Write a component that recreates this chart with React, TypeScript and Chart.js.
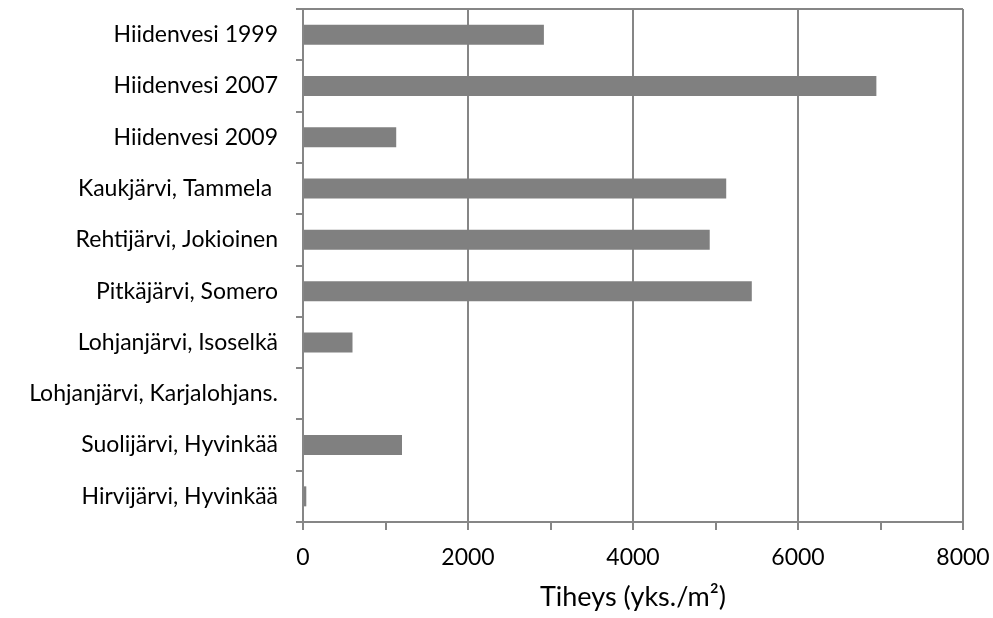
import React, { useEffect, useRef } from "react";
import { Chart, registerables } from "chart.js";

Chart.register(...registerables);

const categories = [
  "Hiidenvesi 1999",
  "Hiidenvesi 2007",
  "Hiidenvesi 2009",
  "Kaukjärvi, Tammela ",
  "Rehtijärvi, Jokioinen",
  "Pitkäjärvi, Somero",
  "Lohjanjärvi, Isoselkä",
  "Lohjanjärvi, Karjalohjans.",
  "Suolijärvi, Hyvinkää",
  "Hirvijärvi, Hyvinkää",
];
const densities = [2920, 6950, 1130, 5130, 4930, 5440, 600, 0, 1200, 40];
const xMin = 0;
const xMax = 8000;
const xStep = 1000;
const labelStep = 2000;
const axisTitle = "Tiheys (yks./m²)";

const GRAY = "#868686";
const BAR = "#808080";
const FONT = "Lato, 'Liberation Sans', sans-serif";

export default function App() {
  const ref = useRef<HTMLCanvasElement | null>(null);
  useEffect(() => {
    if (!ref.current) return;
    const chart = new Chart(ref.current, {
      type: "bar",
      data: {
        labels: categories,
        datasets: [
          {
            data: densities,
            backgroundColor: BAR,
            borderWidth: 0,
            barPercentage: 0.39,
            categoryPercentage: 1,
          },
        ],
      },
      options: {
        indexAxis: "y",
        animation: false,
        responsive: false,
        maintainAspectRatio: false,
        layout: { padding: { left: 0, right: 30, top: 9, bottom: 1 } },
        plugins: { legend: { display: false }, tooltip: { enabled: false } },
        scales: {
          x: {
            min: xMin,
            max: xMax,
            afterFit: (s: any) => {
              s.height = 95;
              s.paddingLeft = 0;
              s.paddingRight = 0;
            },
            ticks: {
              stepSize: xStep,
              autoSkip: false,
              maxRotation: 0,
              color: "#000",
              padding: 14,
              font: { family: FONT, size: 23 },
              callback: (v: any) => (Number(v) % labelStep === 0 ? String(v) : ""),
            },
            grid: {
              color: (ctx: any) =>
                ctx.tick && ctx.tick.value % labelStep === 0 ? GRAY : "rgba(0,0,0,0)",
              tickColor: GRAY,
              lineWidth: 2,
              tickLength: 8,
            },
            border: { display: true, color: GRAY, width: 2 },
            title: {
              display: true,
              text: axisTitle,
              color: "#000",
              font: { family: FONT, size: 27 },
            },
          },
          y: {
            afterFit: (s: any) => {
              s.width = 303;
              s.paddingTop = 0;
              s.paddingBottom = 0;
            },
            ticks: {
              color: "#000",
              padding: 18,
              autoSkip: false,
              font: { family: FONT, size: 23 },
            },
            grid: {
              offset: true,
              color: (ctx: any) => (ctx.index === 0 ? GRAY : "rgba(0,0,0,0)"),
              tickColor: GRAY,
              lineWidth: 2,
              tickLength: 7,
            },
            border: { display: true, color: GRAY, width: 2 },
          },
        },
      },
    });
    return () => chart.destroy();
  }, []);
  return (
    <div style={{ position: "fixed", left: 0, top: 0, width: 993, height: 618, background: "#fff" }}>
      <canvas ref={ref} width={993} height={618} style={{ width: 993, height: 618 }} />
    </div>
  );
}
